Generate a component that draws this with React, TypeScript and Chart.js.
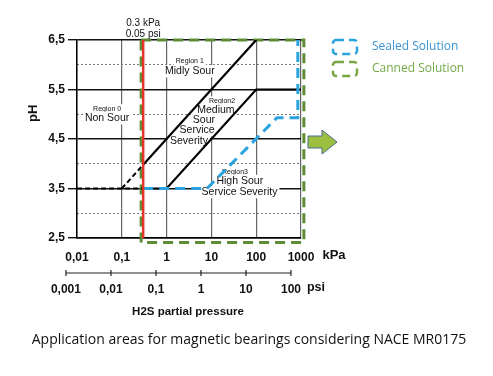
import React, { useEffect, useRef } from "react";
import { Chart, registerables } from "chart.js";

Chart.register(...registerables);

// ---------- data ----------
const kPaTicks = [0.01, 0.1, 1, 10, 100, 1000];
const kPaLabels = ["0,01", "0,1", "1", "10", "100", "1000"];
const psiTicks = [0.001, 0.01, 0.1, 1, 10, 100];
const psiLabels = ["0,001", "0,01", "0,1", "1", "10", "100"];
const psiRange = [0.00176, 167];
const pHTicks = [2.5, 3.5, 4.5, 5.5, 6.5];
const pHMinorTicks = [3, 4, 5, 6];

// boundaries (kPa, pH)
const thresholdX = [0.3, 0.3];
const thresholdY = [2.5, 6.5];
const sour01DashX = [0.01, 0.3];
const sour01DashY = [3.5, 3.5];
const sour12DashX = [0.1, 0.3];
const sour12DashY = [3.5, 3.98];
const sour12X = [0.3, 100];
const sour12Y = [3.98, 6.5];
const sour23X = [0.3, 1, 100, 1000];
const sour23Y = [3.5, 3.5, 5.5, 5.5];
const sealedX = [0.3, 8, 290, 850, 850];
const sealedY = [3.5, 3.5, 4.93, 4.93, 6.5];
const cannedX = [0.27, 1160, 1160, 0.27, 0.27];
const cannedY = [6.5, 6.5, 2.41, 2.41, 6.5];

// region annotations: [kPa, pH, text, fontSize]
const regionLabels: [number, number, string, number][] = [
  [0.047, 5.11, "Region 0", 7],
  [0.047, 4.92, "Non Sour", 10.5],
  [3.3, 6.08, "Region 1", 7],
  [3.3, 5.87, "Midly Sour", 10.5],
  [17.3, 5.27, "Region2", 7],
  [12.6, 5.09, "Medium", 10.5],
  [6.8, 4.88, "Sour", 10.5],
  [4.8, 4.68, "Service", 10.5],
  [3.16, 4.46, "Severity", 10.5],
  [33.6, 3.83, "Region3", 7],
  [43, 3.65, "High Sour", 10.5],
  [42.4, 3.43, "Service Severity", 10.5],
];

const legendItems = ["Sealed Solution", "Canned Solution"];
const caption = "Application areas for magnetic bearings considering NACE MR0175";

const FONT = '"Liberation Sans", Arial, sans-serif';
const BLUE = "#2aa3de";
const GREEN = "#5e8c35";
const RED = "#e5352a";

const pts = (xs: number[], ys: number[]) => xs.map((x, i) => ({ x, y: ys[i] }));

const overlay = {
  id: "overlay",
  beforeDatasetsDraw(chart: any) {
    const ctx = chart.ctx;
    const xs = chart.scales.x;
    const ys = chart.scales.y;
    ctx.save();
    ctx.textAlign = "center";
    ctx.textBaseline = "middle";
    for (const [kx, ph, text, size] of regionLabels) {
      const px = xs.getPixelForValue(kx);
      const py = ys.getPixelForValue(ph);
      ctx.font = `${size}px ${FONT}`;
      const w = ctx.measureText(text).width;
      ctx.fillStyle = "#fff";
      ctx.fillRect(px - w / 2 - 2, py - size / 2 - 1, w + 4, size + 2);
      ctx.fillStyle = "#111";
      ctx.fillText(text, px, py);
    }
    ctx.restore();
  },
  afterDraw(chart: any) {
    const ctx = chart.ctx;
    const area = chart.chartArea;
    const xs = chart.scales.x;
    const x2 = chart.scales.x2;
    ctx.save();
    ctx.fillStyle = "#111";
    ctx.textAlign = "center";
    ctx.textBaseline = "middle";

    // threshold annotation
    const tx = xs.getPixelForValue(thresholdX[0]);
    ctx.font = `10px ${FONT}`;
    ctx.fillText("0.3 kPa", tx, area.top - 17);
    ctx.fillText("0.05 psi", tx, area.top - 6);

    // pH title
    ctx.save();
    ctx.translate(33, area.top + (area.bottom - area.top) * 0.37);
    ctx.rotate(-Math.PI / 2);
    ctx.font = `bold 13px ${FONT}`;
    ctx.fillText("pH", 0, 0);
    ctx.restore();

    // unit labels
    ctx.font = `bold 13px ${FONT}`;
    ctx.fillText("kPa", area.right + 33, 255);
    ctx.font = `bold 12.5px ${FONT}`;
    ctx.fillText("psi", area.right + 15, 288);
    ctx.font = `bold 11.5px ${FONT}`;
    ctx.fillText("H2S partial pressure", 188, 312);

    // psi axis line
    const ly = x2.top + 7;
    const p0 = x2.getPixelForValue(psiTicks[0]);
    const p1 = x2.getPixelForValue(psiTicks[psiTicks.length - 1]);
    ctx.strokeStyle = "#222";
    ctx.lineWidth = 1.2;
    ctx.beginPath();
    ctx.moveTo(p0, ly);
    ctx.lineTo(p1, ly);
    for (const v of psiTicks) {
      const p = x2.getPixelForValue(v);
      ctx.moveTo(p, ly - 3);
      ctx.lineTo(p, ly + 3);
    }
    ctx.stroke();

    // caption
    ctx.font = `14px "Open Sans", sans-serif`;
    ctx.fillStyle = "#111";
    ctx.fillText(caption, 249, 340);

    // legend
    const lx = area.right + 32;
    const colors = [BLUE, "#7aa544"];
    const textColors = ["#3a93d2", "#72a945"];
    legendItems.forEach((t, i) => {
      const by = 40 + i * 22;
      ctx.save();
      ctx.strokeStyle = colors[i];
      ctx.lineWidth = 2.5;
      ctx.setLineDash([8, 5]);
      ctx.beginPath();
      (ctx as any).roundRect(lx, by, 24, 14, 3);
      ctx.stroke();
      ctx.restore();
      ctx.textAlign = "left";
      ctx.font = `12px "Open Sans", sans-serif`;
      ctx.fillStyle = textColors[i];
      ctx.fillText(t, lx + 39, by + 7);
    });

    // arrow
    const ax = area.right + 7;
    const ay = 142;
    ctx.beginPath();
    ctx.moveTo(ax, ay - 6);
    ctx.lineTo(ax + 14, ay - 6);
    ctx.lineTo(ax + 14, ay - 12);
    ctx.lineTo(ax + 29, ay);
    ctx.lineTo(ax + 14, ay + 12);
    ctx.lineTo(ax + 14, ay + 6);
    ctx.lineTo(ax, ay + 6);
    ctx.closePath();
    ctx.fillStyle = "#9cbf3f";
    ctx.fill();
    ctx.strokeStyle = "#4a6a94";
    ctx.lineWidth = 1;
    ctx.stroke();
    ctx.restore();
  },
};

export default function App() {
  const ref = useRef<HTMLCanvasElement>(null);
  useEffect(() => {
    if (!ref.current) return;
    const line = (data: any[], color: string, width: number, dash: number[], order: number, extra: any = {}) => ({
      data,
      borderColor: color,
      backgroundColor: color,
      borderWidth: width,
      borderDash: dash,
      showLine: true,
      pointRadius: 0,
      tension: 0,
      fill: false,
      order,
      xAxisID: "x",
      yAxisID: "y",
      ...extra,
    });
    const chart = new Chart(ref.current, {
      type: "scatter",
      data: {
        datasets: [
          line(pts(thresholdX, thresholdY), RED, 2.5, [], 0),
          line(pts(sealedX, sealedY), BLUE, 3, [10, 6], 1),
          line(pts(sour12X, sour12Y), "#000", 2.2, [], 2),
          line(pts(sour23X, sour23Y), "#000", 2.2, [], 2),
          line(pts(sour12DashX, sour12DashY), "#000", 2, [5, 3], 2),
          line(pts(sour01DashX, sour01DashY), "#000", 2, [5, 3], 2),
          line(pts(cannedX, cannedY), GREEN, 3, [10, 6], 3, { clip: false }),
        ],
      },
      options: {
        responsive: false,
        animation: false,
        events: [],
        layout: { padding: { left: 0, right: 192, top: 40, bottom: 70 } },
        plugins: { legend: { display: false }, tooltip: { enabled: false }, title: { display: false } },
        scales: {
          x: {
            type: "logarithmic",
            position: "bottom",
            weight: 0,
            min: kPaTicks[0],
            max: kPaTicks[kPaTicks.length - 1],
            afterBuildTicks: (s: any) => {
              s.ticks = kPaTicks.map((v) => ({ value: v }));
            },
            afterFit: (s: any) => {
              s.height = 28;
            },
            ticks: {
              autoSkip: false,
              maxRotation: 0,
              padding: 12,
              color: "#111",
              font: { family: FONT, size: 12, weight: "bold" },
              callback: (v: any) => kPaLabels[kPaTicks.indexOf(Number(v))] ?? "",
            },
            grid: { color: "#666", lineWidth: 1.2, drawTicks: false },
            border: { display: true, color: "#000", width: 1.5 },
          },
          x2: {
            type: "logarithmic",
            position: "bottom",
            weight: 1,
            min: psiRange[0],
            max: psiRange[1],
            afterBuildTicks: (s: any) => {
              s.ticks = psiTicks.map((v) => ({ value: v }));
            },
            afterFit: (s: any) => {
              s.height = 40;
            },
            ticks: {
              autoSkip: false,
              maxRotation: 0,
              padding: 16,
              color: "#111",
              font: { family: FONT, size: 12, weight: "bold" },
              callback: (v: any) => psiLabels[psiTicks.indexOf(Number(v))] ?? "",
            },
            grid: { display: false, drawTicks: false },
            border: { display: false },
          },
          y: {
            type: "linear",
            position: "left",
            min: pHTicks[0],
            max: pHTicks[pHTicks.length - 1],
            afterBuildTicks: (s: any) => {
              s.ticks = pHTicks.map((v) => ({ value: v }));
            },
            afterFit: (s: any) => {
              s.width = 77;
            },
            ticks: {
              padding: 3,
              color: "#111",
              font: { family: FONT, size: 12, weight: "bold" },
              callback: (v: any) => Number(v).toFixed(1).replace(".", ","),
            },
            grid: { color: "#111", lineWidth: 1.4, tickLength: 9, tickColor: "#111", drawTicks: true },
            border: { display: true, color: "#000", width: 1.5 },
          },
          y2: {
            type: "linear",
            position: "left",
            min: pHTicks[0],
            max: pHTicks[pHTicks.length - 1],
            afterBuildTicks: (s: any) => {
              s.ticks = pHMinorTicks.map((v) => ({ value: v }));
            },
            afterFit: (s: any) => {
              s.width = 0;
            },
            ticks: { display: false },
            grid: { color: "#777", lineWidth: 1, drawTicks: false },
            border: { display: false, dash: [2, 2] },
          },
        },
      },
      plugins: [overlay],
    } as any);
    return () => chart.destroy();
  }, []);
  return (
    <div style={{ position: "absolute", left: 0, top: 0, width: 493, height: 376, background: "#fff" }}>
      <canvas ref={ref} width={493} height={376} style={{ display: "block", width: 493, height: 376 }} />
    </div>
  );
}
